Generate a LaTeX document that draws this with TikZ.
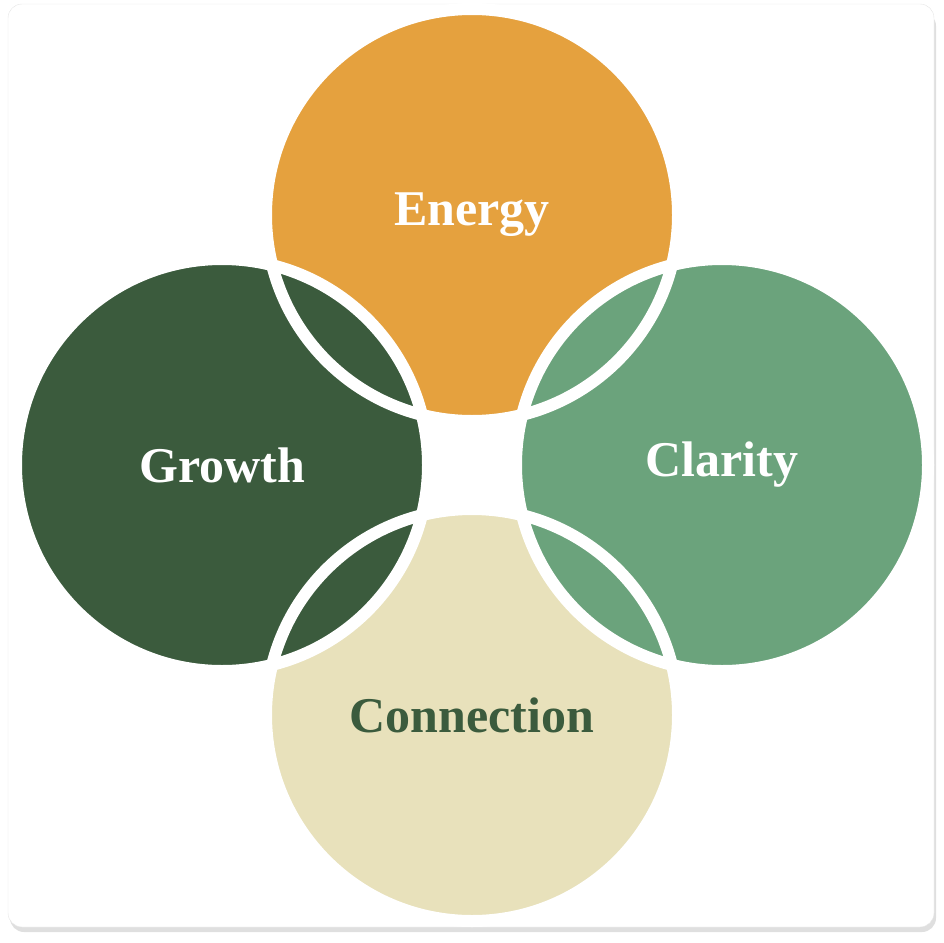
\documentclass[tikz,border=0pt]{standalone}
\usepackage{fontspec}
\setmainfont{Liberation Serif}
\begin{document}
\begin{tikzpicture}[x=1pt,y=-1pt,
  circ/.style={circle,minimum size=412pt,inner sep=0pt},
  ring/.style={draw=white,line width=12pt},
  lab/.style={font=\fontsize{50}{54}\selectfont\bfseries}]
\definecolor{eng}{HTML}{E5A13E}
\definecolor{gro}{HTML}{3B5B3D}
\definecolor{cla}{HTML}{6BA37C}
\definecolor{con}{HTML}{E8E1BB}
\useasboundingbox (0,0) rectangle (944,942);
\fill[gray!25] (10,12) [rounded corners=14pt] rectangle (936,932);
\fill[white,draw=gray!20] (8,4) [rounded corners=14pt] rectangle (934,927);
\node[circ,fill=eng] (e) at (472,215) {};
\node[circ,fill=con] (n) at (472,715) {};
\node[circ,fill=gro] (g) at (222,465) {};
\node[circ,fill=cla] (c) at (722,465) {};
\foreach \p in {e,n,g,c} \draw[ring] (\p.center) circle (206pt);
\node[lab,text=white] at (e) {Energy};
\node[lab,text=white] at (g) {Growth};
\node[lab,text=white] at (c) {Clarity};
\node[lab,text=gro] at (n) {Connection};
\end{tikzpicture}
\end{document}
